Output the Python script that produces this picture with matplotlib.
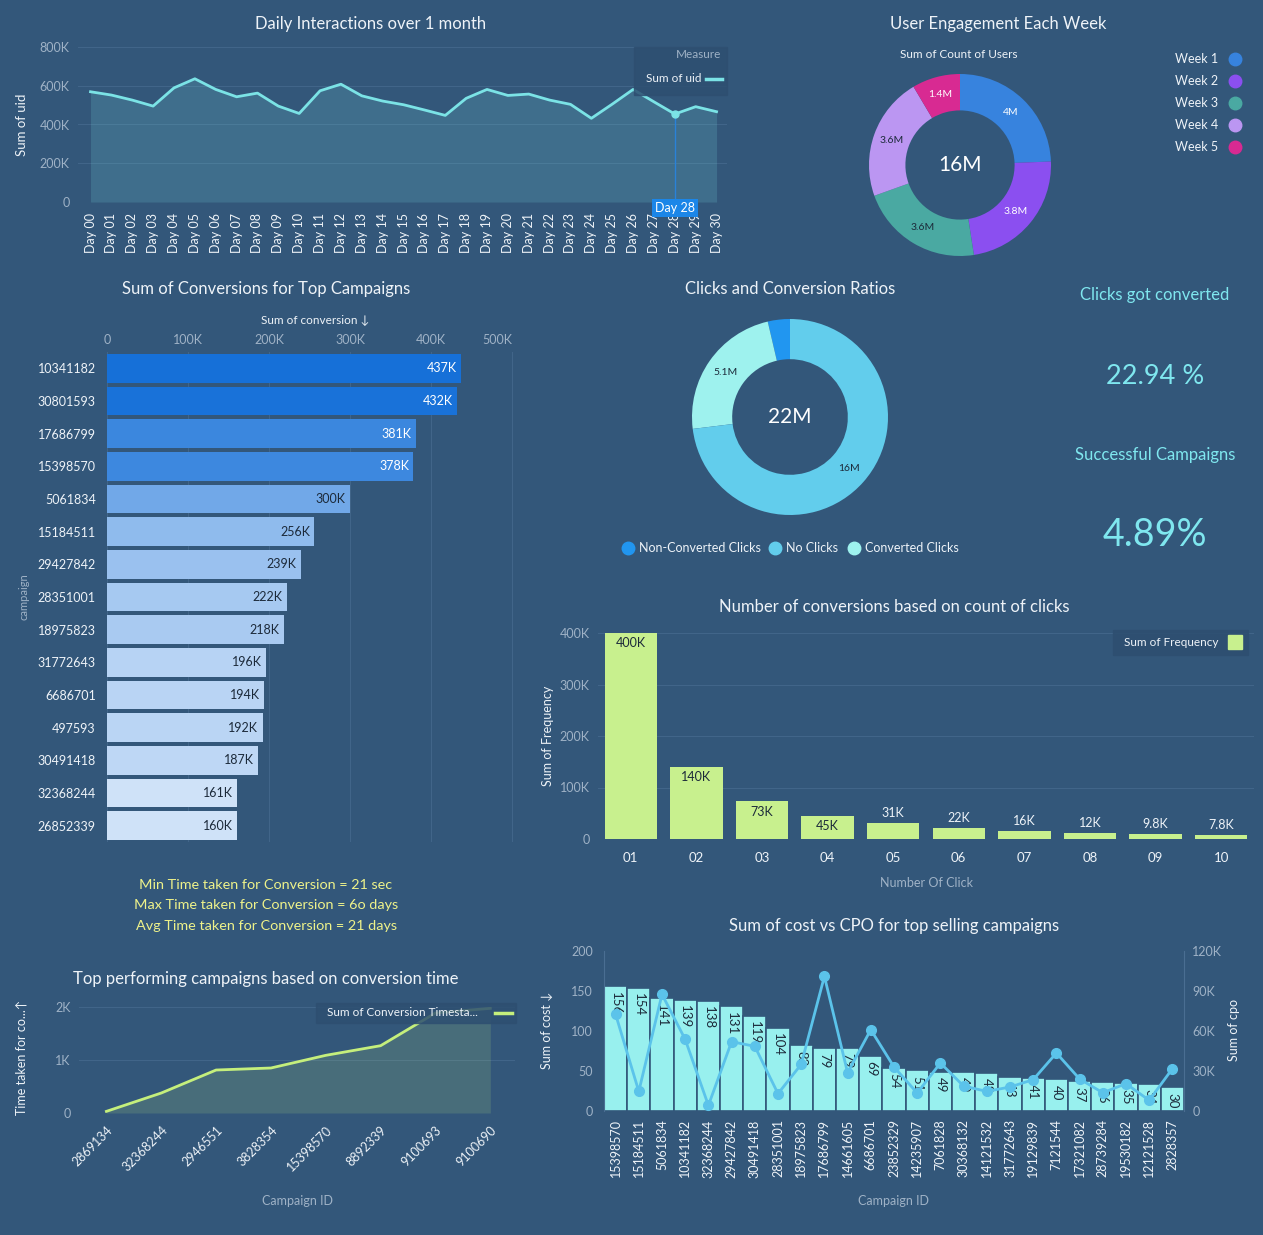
import matplotlib.pyplot as plt
import numpy as np
from matplotlib.patches import Rectangle
from matplotlib.lines import Line2D
from matplotlib.colors import LinearSegmentedColormap
from matplotlib.ticker import FuncFormatter

plt.rcParams['font.family'] = ['Lato', 'DejaVu Sans']

W, H = 1263, 1235
BG = '#33577a'
GRID = '#416589'
TICK = '#9fb2c6'
TXT = '#eef3f8'
DARK = '#1c2a3a'
BOX = '#2e4f71'
TITLE_FS = 12

# ---- data ----
days = ['Day 00', 'Day 01', 'Day 02', 'Day 03', 'Day 04', 'Day 05', 'Day 06', 'Day 07',
        'Day 08', 'Day 09', 'Day 10', 'Day 11', 'Day 12', 'Day 13', 'Day 14', 'Day 15',
        'Day 16', 'Day 17', 'Day 18', 'Day 19', 'Day 20', 'Day 21', 'Day 22', 'Day 23',
        'Day 24', 'Day 25', 'Day 26', 'Day 27', 'Day 28', 'Day 29', 'Day 30']
daily_uid = [569000, 552000, 526000, 495000, 589000, 636000, 581000, 543000, 562000, 495000,
             457000, 574000, 608000, 548000, 521000, 502000, 475000, 447000, 535000, 581000,
             550000, 557000, 526000, 504000, 432000, 505000, 581000, 517000, 454000, 492000,
             466000]

weeks = ['Week 1', 'Week 2', 'Week 3', 'Week 4', 'Week 5']
week_users = [4.0, 3.8, 3.6, 3.6, 1.4]
week_labels = ['4M', '3.8M', '3.6M', '3.6M', '1.4M']
week_colors = ['#3783de', '#8b4ff0', '#4aa9a2', '#bb96f2', '#d82a92']

top_campaigns = ['10341182', '30801593', '17686799', '15398570', '5061834', '15184511',
                 '29427842', '28351001', '18975823', '31772643', '6686701', '497593',
                 '30491418', '32368244', '26852339']
conversions = [437000, 432000, 381000, 378000, 300000, 256000, 239000, 222000, 218000,
               196000, 194000, 192000, 187000, 161000, 160000]

click_groups = ['Non-Converted Clicks', 'Converted Clicks', 'No Clicks']
click_values = [0.8, 5.1, 16.0]
click_labels = ['', '5.1M', '16M']
click_colors = ['#2196f0', '#9ef2ee', '#62cdec']
legend_order = ['Non-Converted Clicks', 'No Clicks', 'Converted Clicks']

num_clicks = ['01', '02', '03', '04', '05', '06', '07', '08', '09', '10']
frequency = [400000, 140000, 73000, 45000, 31000, 22000, 16000, 12000, 9800, 7800]
freq_labels = ['400K', '140K', '73K', '45K', '31K', '22K', '16K', '12K', '9.8K', '7.8K']

time_campaigns = ['2869134', '32368244', '2946551', '3828354', '15398570', '8892339',
                  '9100693', '9100690']
conv_time = [31, 377, 811, 849, 1088, 1270, 1887, 1975]

cost_campaigns = ['15398570', '15184511', '5061834', '10341182', '32368244', '29427842',
                  '30491418', '28351001', '18975823', '17686799', '14661605', '6686701',
                  '23852329', '14235907', '7061828', '30368132', '14121532', '31772643',
                  '19129839', '7121544', '17321082', '28739284', '19530182', '12121528',
                  '2828357']
cost = [156, 154, 141, 139, 138, 131, 119, 104, 82, 79, 79, 69, 54, 51, 49, 49, 48, 43,
        41, 40, 37, 36, 35, 34, 30]
cpo = [72500, 14700, 87500, 53700, 4200, 52000, 48500, 13000, 35000, 101000, 28700,
       61000, 33000, 13500, 36000, 18700, 14700, 18000, 23500, 43500, 24000, 13700,
       20500, 8000, 31700]


def kfmt(v, _=None):
    return '0' if v == 0 else f'{v / 1000:g}K'


fig = plt.figure(figsize=(W / 100, H / 100), dpi=100, facecolor=BG)


def add_ax(x0, y0, x1, y1):
    ax = fig.add_axes([x0 / W, 1 - y1 / H, (x1 - x0) / W, (y1 - y0) / H])
    ax.set_facecolor('none')
    for s in ax.spines.values():
        s.set_visible(False)
    ax.tick_params(length=0)
    return ax


def ftext(x, y, s, **kw):
    kw.setdefault('ha', 'center')
    kw.setdefault('va', 'center')
    kw.setdefault('color', TXT)
    fig.text(x / W, 1 - y / H, s, **kw)


def frect(x0, y0, x1, y1, color, alpha=1.0):
    fig.patches.append(Rectangle((x0 / W, 1 - y1 / H), (x1 - x0) / W, (y1 - y0) / H,
                                 transform=fig.transFigure, color=color, alpha=alpha,
                                 zorder=2))


def fline(x0, x1, y, color, lw=2.5):
    fig.add_artist(Line2D([x0 / W, x1 / W], [1 - y / H, 1 - y / H], color=color, lw=lw,
                          transform=fig.transFigure, zorder=3))


def fdot(x, y, color, ms=9, marker='o'):
    fig.add_artist(Line2D([x / W], [1 - y / H], marker=marker, ms=ms, color=color,
                          lw=0, transform=fig.transFigure, zorder=3))


# ---- Daily interactions ----
ax1 = add_ax(78, 47, 727, 202)
x = np.arange(len(days))
ax1.fill_between(x, daily_uid, color='#7be3e6', alpha=0.17, lw=0)
ax1.plot(x, daily_uid, color='#7be3e6', lw=2)
ax1.set_xlim(-0.6, 30.5)
ax1.set_ylim(0, 800000)
ax1.set_yticks([0, 200000, 400000, 600000, 800000])
ax1.yaxis.set_major_formatter(FuncFormatter(kfmt))
ax1.grid(axis='y', color=GRID, lw=0.8)
ax1.set_axisbelow(True)
ax1.set_xticks(x)
ax1.set_xticklabels(days, rotation=90, fontsize=9, color=TXT)
ax1.tick_params(axis='x', pad=8)
ax1.tick_params(axis='y', labelsize=9, labelcolor=TICK, pad=6)
ax1.plot([28, 28], [0, daily_uid[28]], color='#2a82d8', lw=1)
ax1.plot(28, daily_uid[28], 'o', color='#7be3e6', ms=5)
ax1.annotate('Day 28', xy=(28, 0), xytext=(0, -4.5), textcoords='offset points',
             ha='center', va='center', color='white', fontsize=9, annotation_clip=False,
             bbox=dict(boxstyle='square,pad=0.25', fc='#1b86e8', ec='none'))
ftext(371, 24, 'Daily Interactions over 1 month', fontsize=TITLE_FS)
ftext(22, 125, 'Sum of uid', rotation=90, fontsize=9.5)
frect(634, 47, 727, 95, BOX, 0.85)
ftext(721, 54, 'Measure', ha='right', color=TICK, fontsize=8.5, zorder=4)
ftext(701, 79, 'Sum of uid', ha='right', fontsize=8.5, zorder=4)
fline(706, 722, 79, '#7be3e6')

# ---- Weekly donut ----
ax2 = add_ax(869, 74, 1051, 256)
wedges, _ = ax2.pie(week_users, colors=week_colors, startangle=90, counterclock=False,
                    radius=1, wedgeprops=dict(width=0.4, edgecolor='none'))
ax2.set_xlim(-1, 1)
ax2.set_ylim(-1, 1)
for w, lab, c in zip(wedges, week_labels, ['white', 'white', DARK, DARK, 'white']):
    a = np.deg2rad((w.theta1 + w.theta2) / 2)
    ax2.text(0.8 * np.cos(a), 0.8 * np.sin(a), lab, ha='center', va='center',
             fontsize=7.5, color=c)
ax2.text(0, 0, '16M', ha='center', va='center', fontsize=15, color='white')
ftext(998, 24, 'User Engagement Each Week', fontsize=TITLE_FS)
ftext(959, 55, 'Sum of Count of Users', fontsize=8.5)
for i, (wk, c) in enumerate(zip(weeks, week_colors)):
    ftext(1218, 59 + 22 * i, wk, ha='right', fontsize=9)
    fdot(1235, 59 + 22 * i, c)

# ---- Top campaigns horizontal bars ----
ax3 = add_ax(107, 352, 516, 842)
yy = np.arange(len(top_campaigns))
cmap = LinearSegmentedColormap.from_list('blues', ['#cfe2f8', '#1670d8'])
norm = [(v - min(conversions)) / (max(conversions) - min(conversions)) for v in conversions]
ax3.barh(yy, conversions, height=0.88, color=[cmap(n) for n in norm])
ax3.set_ylim(14.5, -0.5)
ax3.set_xlim(0, 505000)
ax3.xaxis.tick_top()
ax3.set_xticks([0, 100000, 200000, 300000, 400000, 500000])
ax3.xaxis.set_major_formatter(FuncFormatter(kfmt))
ax3.tick_params(axis='x', labelsize=9, labelcolor=TICK, pad=4)
ax3.get_xticklabels()[-1].set_ha('right')
ax3.set_yticks(yy)
ax3.set_yticklabels(top_campaigns, fontsize=9, color=TXT)
ax3.tick_params(axis='y', pad=8)
ax3.grid(axis='x', color=GRID, lw=0.8)
ax3.set_axisbelow(True)
for i, v in enumerate(conversions):
    ax3.text(v - 5000, i, kfmt(v), ha='right', va='center', fontsize=9,
             color='white' if v > 350000 else DARK)
ftext(266, 289, 'Sum of Conversions for Top Campaigns', fontsize=TITLE_FS)
ftext(315, 320, 'Sum of conversion ↓', fontsize=8.5)
ftext(24, 597, 'campaign', rotation=90, fontsize=8, color=TICK)

# ---- Clicks donut ----
ax4 = add_ax(692, 319, 888, 515)
wedges, _ = ax4.pie(click_values, colors=click_colors, startangle=90, counterclock=True,
                    radius=1, wedgeprops=dict(width=0.41, edgecolor='none'))
ax4.set_xlim(-1, 1)
ax4.set_ylim(-1, 1)
for w, lab in zip(wedges, click_labels):
    a = np.deg2rad((w.theta1 + w.theta2) / 2)
    ax4.text(0.8 * np.cos(a), 0.8 * np.sin(a), lab, ha='center', va='center',
             fontsize=7.5, color=DARK)
ax4.text(0, 0, '22M', ha='center', va='center', fontsize=15, color='white')
ftext(790, 289, 'Clicks and Conversion Ratios', fontsize=TITLE_FS)
for name, xd in zip(legend_order, [628, 775, 854]):
    fdot(xd, 548, click_colors[click_groups.index(name)], ms=9)
    ftext(xd + 11, 548, name, ha='left', fontsize=9)

# ---- KPI ----
KPI = '#7fe7ef'
ftext(1155, 295, 'Clicks got converted', fontsize=12, color=KPI)
ftext(1155, 376, '22.94 %', fontsize=19.5, color=KPI)
ftext(1155, 455, 'Successful Campaigns', fontsize=12, color=KPI)
ftext(1155, 535, '4.89%', fontsize=27, color=KPI)

# ---- Conversions by click count ----
ax5 = add_ax(598, 633, 1254, 839)
xc = np.arange(len(num_clicks))
ax5.bar(xc, frequency, width=0.8, color='#c8f08e')
ax5.set_xlim(-0.5, 9.5)
ax5.set_ylim(0, 400000)
ax5.set_yticks([0, 100000, 200000, 300000, 400000])
ax5.yaxis.set_major_formatter(FuncFormatter(kfmt))
ax5.grid(axis='y', color=GRID, lw=0.8)
ax5.set_axisbelow(True)
ax5.set_xticks(xc)
ax5.set_xticklabels(num_clicks, fontsize=9.5, color=TXT)
ax5.tick_params(axis='x', pad=9)
ax5.tick_params(axis='y', labelsize=9, labelcolor=TICK, pad=6)
for i, (v, lab) in enumerate(zip(frequency, freq_labels)):
    if v >= 40000:
        ax5.annotate(lab, (i, v), xytext=(0, -3), textcoords='offset points',
                     ha='center', va='top', fontsize=9, color=DARK)
    else:
        ax5.annotate(lab, (i, v), xytext=(0, 3), textcoords='offset points',
                     ha='center', va='bottom', fontsize=9, color=TXT)
ftext(894, 607, 'Number of conversions based on count of clicks', fontsize=TITLE_FS)
ftext(548, 736, 'Sum of Frequency', rotation=90, fontsize=9)
ftext(926, 883, 'Number Of Click', fontsize=9, color=TICK)
frect(1113, 630, 1248, 655, BOX, 0.9)
ftext(1218, 642, 'Sum of Frequency', ha='right', fontsize=8.5, zorder=4)
fdot(1235, 642, '#c8f08e', ms=10, marker='s')

# ---- Conversion time text ----
YEL = '#eef28a'
ftext(266, 885, 'Min Time taken for Conversion = 21 sec', fontsize=10.4, color=YEL)
ftext(266, 905, 'Max Time taken for Conversion = 6o days', fontsize=10.4, color=YEL)
ftext(266, 926, 'Avg Time taken for Conversion = 21 days', fontsize=10.4, color=YEL)

# ---- Conversion time area ----
ax6 = add_ax(79, 1007, 515, 1113)
xt = np.arange(len(time_campaigns))
ax6.fill_between(xt, conv_time, color='#c5ef7c', alpha=0.15, lw=0)
ax6.plot(xt, conv_time, color='#c5ef7c', lw=2)
ax6.set_xlim(-0.5, 7.45)
ax6.set_ylim(0, 2000)
ax6.set_yticks([0, 1000, 2000])
ax6.yaxis.set_major_formatter(FuncFormatter(kfmt))
ax6.grid(axis='y', color=GRID, lw=0.8)
ax6.set_axisbelow(True)
ax6.set_xticks(xt)
ax6.set_xticklabels(time_campaigns, rotation=45, ha='right', rotation_mode='anchor',
                    fontsize=9, color=TXT)
ax6.tick_params(axis='x', pad=8)
ax6.tick_params(axis='y', labelsize=9, labelcolor=TICK, pad=6)
ftext(266, 979, 'Top performing campaigns based on conversion time', fontsize=TITLE_FS)
ftext(22, 1057, 'Time taken for co...↑', rotation=90, fontsize=9)
ftext(298, 1201, 'Campaign ID', fontsize=9, color=TICK)
frect(316, 1003, 516, 1023, BOX, 0.85)
ftext(327, 1013, 'Sum of Conversion Timesta...', ha='left', fontsize=8.5, zorder=4)
fline(495, 512, 1013, '#c5ef7c')

# ---- Cost vs CPO ----
ax7 = add_ax(604, 951, 1184, 1111)
xb = np.arange(len(cost_campaigns))
ax7.bar(xb, cost, width=1.0, color='#98f0ee', edgecolor=BG, linewidth=1.2)
ax7.set_xlim(-0.5, 24.5)
ax7.set_ylim(0, 200)
ax7.set_yticks([0, 50, 100, 150, 200])
ax7.spines['left'].set_visible(True)
ax7.spines['left'].set_color('#4a6e92')
ax7.set_xticks(xb)
ax7.set_xticklabels(cost_campaigns, rotation=90, fontsize=9, color=TXT)
ax7.tick_params(axis='x', pad=6)
ax7.tick_params(axis='y', labelsize=9, labelcolor=TICK, pad=8)
for i, v in enumerate(cost):
    ax7.annotate(str(v), (i, v), xytext=(0, -4), textcoords='offset points',
                 ha='center', va='top', rotation=-90, fontsize=9.5, color=DARK)
ax8 = ax7.twinx()
for s in ax8.spines.values():
    s.set_visible(False)
ax8.spines['right'].set_visible(True)
ax8.spines['right'].set_color('#4a6e92')
ax8.plot(xb, cpo, color='#5bc3ea', lw=2, marker='o', ms=7)
ax8.set_ylim(0, 120000)
ax8.set_yticks([0, 30000, 60000, 90000, 120000])
ax8.yaxis.set_major_formatter(FuncFormatter(kfmt))
ax8.tick_params(axis='y', length=0, labelsize=9, labelcolor=TICK, pad=6)
ftext(894, 926, 'Sum of cost vs CPO for top selling campaigns', fontsize=TITLE_FS)
ftext(547, 1030, 'Sum of cost ↓', rotation=90, fontsize=9)
ftext(1234, 1030, 'Sum of cpo', rotation=90, fontsize=9)
ftext(894, 1201, 'Campaign ID', fontsize=9, color=TICK)

fig.savefig('out.png', dpi=100, facecolor=BG)
